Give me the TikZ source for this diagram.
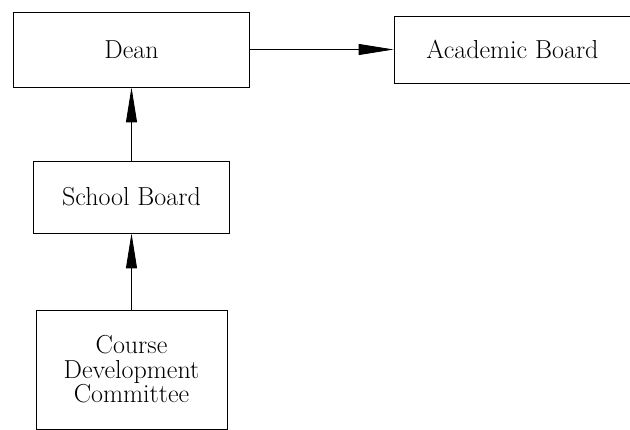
\documentclass[tikz,border=0pt]{standalone}
\usetikzlibrary{arrows.meta}
\begin{document}
\begin{tikzpicture}[x=1pt,y=-1pt,
  unit/.style={draw,line width=0.8pt,inner sep=0pt,align=center,
    font=\fontsize{26}{24.5}\selectfont},
  link/.style={line width=0.8pt,-{Triangle[length=35pt,width=11pt]}}]
  \useasboundingbox (0,0) rectangle (630,430);
  % organisational units
  \node[unit,minimum width=236pt,minimum height=75pt] (dean) at (131.5,49.5) {Dean};
  \node[unit,minimum width=237pt,minimum height=67pt] (acad) at (512.5,49.5) {Academic Board};
  \node[unit,minimum width=196pt,minimum height=72pt] (school) at (131.5,197) {School Board};
  \node[unit,minimum width=191pt,minimum height=119pt] (cdc) at (131.5,369.5)
    {Course\\Development\\Committee};
  % reporting lines
  \draw[link] (dean.east) -- (acad.west);
  \draw[link] (school.north) -- (dean.south);
  \draw[link] (cdc.north) -- (school.south);
\end{tikzpicture}
\end{document}
